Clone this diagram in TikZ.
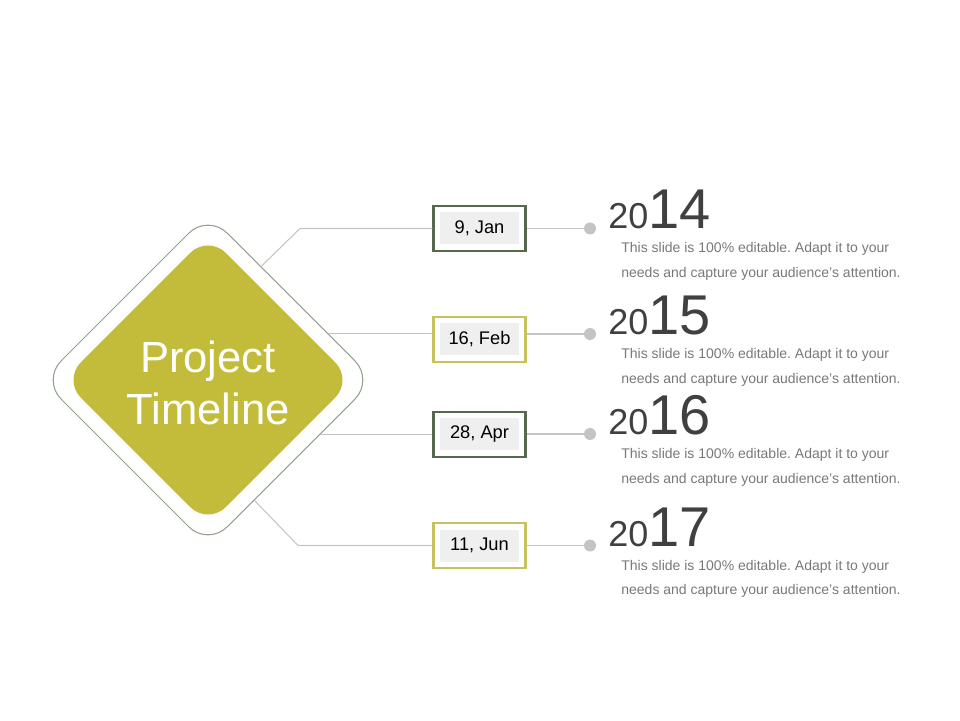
\documentclass[tikz,border=0pt]{standalone}
\usepackage{fontspec}
\setmainfont{Liberation Sans}
\usetikzlibrary{shapes.geometric}
\frenchspacing

\definecolor{tlOlive}{RGB}{194,188,58}
\definecolor{tlFrame}{RGB}{145,163,140}
\definecolor{tlMoss}{RGB}{86,104,78}
\definecolor{tlLime}{RGB}{198,194,96}
\definecolor{tlTag}{RGB}{239,239,239}
\definecolor{tlLine}{RGB}{196,196,196}
\definecolor{tlYear}{RGB}{64,64,64}
\definecolor{tlNote}{RGB}{120,120,120}

\tikzset{
  link/.style={draw=tlLine, line width=0.6pt},
  datebox/.style={draw=#1, line width=1.4pt, fill=white, minimum width=1.84cm, minimum height=0.9cm, inner sep=0},
  datetag/.style={fill=tlTag, minimum width=1.58cm, minimum height=0.64cm, inner sep=0, font=\fontsize{10.4}{12}\selectfont},
  dot/.style={circle, fill=tlLine, minimum size=0.24cm, inner sep=0},
  note/.style={anchor=north west, inner sep=0, align=left, text=tlNote, font=\fontsize{7.97}{14.2}\selectfont}
}

\begin{document}
\begin{tikzpicture}
\useasboundingbox (0,0) rectangle (19.2,14.4);
% the big diamond
\node[diamond, draw=tlFrame, fill=white, line width=0.6pt, minimum size=6.64cm, inner sep=0, outer sep=0, rounded corners=0.54cm] (hub) at (4.16,6.8) {};
\node[diamond, fill=tlOlive, minimum size=5.8cm, inner sep=0, rounded corners=0.5cm] (core) at (hub) {};
\node[align=center, text=white, font=\fontsize{24.8}{29.8}\selectfont] (title) at (4.16,6.74) {Project\\Timeline};
% one row per year
\foreach \n/\yb/\yl/\dt/\yr/\col in {1/9.83/9.83/{9, Jan}/14/tlMoss, 2/7.61/7.72/{16, Feb}/15/tlLime, 3/5.71/5.72/{28, Apr}/16/tlMoss, 4/3.49/3.49/{11, Jun}/17/tlLime} {
  \node[datebox=\col] (box\n) at (9.59,\yb) {};
  \node[datetag] (tag\n) at (box\n) {\dt};
  \node[dot] (dot\n) at (11.8,\yl) {};
  \draw[link] (dot\n) -- (dot\n -| box\n.east);
  \node[anchor=base west, inner sep=0, text=tlYear] (yr\n) at (12.16,\yl-0.01) {{\fontsize{20.5}{24}\selectfont 20}{\fontsize{31.9}{38}\selectfont\yr}};
  \node[note] (note\n) at (12.42,\yl-0.28) {This slide is 100\% editable. Adapt it to your\\needs and capture your audience's attention.};
}
% connectors from the diamond
\coordinate (k1) at (6.0,9.83);
\coordinate (k4) at (5.96,3.49);
\draw[link] (hub.65) -- (k1) -- (box1.west);
\draw[link] (hub.21) -- (hub.21 -| box2.west);
\draw[link] (hub.-26) -- (hub.-26 -| box3.west);
\draw[link] (hub.-69) -- (k4) -- (box4.west);
\end{tikzpicture}
\end{document}
